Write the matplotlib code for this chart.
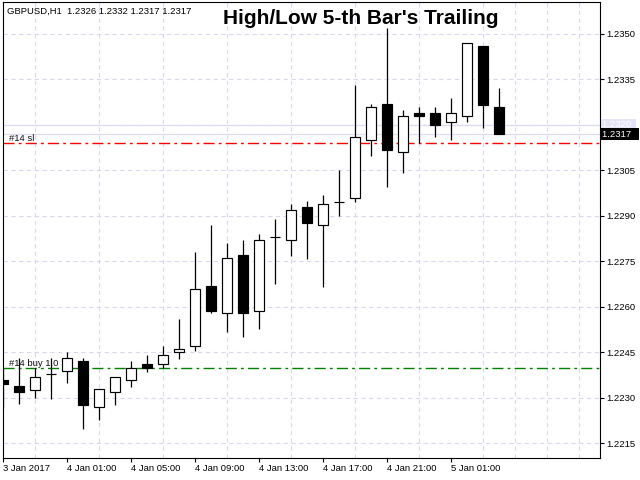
import matplotlib
matplotlib.use('Agg')
import matplotlib.pyplot as plt
import matplotlib.transforms as mtransforms
from matplotlib.ticker import MultipleLocator

# ---------------- data ----------------
bar_index = list(range(32))
opens = [1.22359, 1.22339, 1.22327, 1.22379, 1.22388, 1.22422, 1.22269, 1.22318,
         1.22358, 1.22412, 1.22411, 1.22450, 1.22471, 1.22669, 1.22579, 1.22770,
         1.22587, 1.22830, 1.22820, 1.22928, 1.22869, 1.22947, 1.22958, 1.23149,
         1.23268, 1.23110, 1.23238, 1.23238, 1.23209, 1.23229, 1.23459, 1.23260]
highs = [1.22400, 1.22430, 1.22398, 1.22431, 1.22450, 1.22431, 1.22330, 1.22370,
         1.22422, 1.22441, 1.22471, 1.22559, 1.22781, 1.22870, 1.22810, 1.22821,
         1.22840, 1.22889, 1.22939, 1.22949, 1.22969, 1.23051, 1.23332, 1.23269,
         1.23519, 1.23248, 1.23258, 1.23258, 1.23288, 1.23469, 1.23459, 1.23322]
lows = [1.22265, 1.22280, 1.22299, 1.22297, 1.22348, 1.22198, 1.22228, 1.22277,
        1.22337, 1.22386, 1.22398, 1.22429, 1.22455, 1.22579, 1.22518, 1.22500,
        1.22528, 1.22677, 1.22768, 1.22759, 1.22667, 1.22900, 1.22947, 1.23099,
        1.22996, 1.23041, 1.23140, 1.23159, 1.23149, 1.23209, 1.23189, 1.23170]
closes = [1.22347, 1.22318, 1.22368, 1.22379, 1.22430, 1.22277, 1.22328, 1.22368,
          1.22398, 1.22398, 1.22441, 1.22461, 1.22658, 1.22587, 1.22760, 1.22579,
          1.22820, 1.22830, 1.22919, 1.22878, 1.22938, 1.22947, 1.23159, 1.23258,
          1.23118, 1.23229, 1.23229, 1.23199, 1.23238, 1.23469, 1.23267, 1.23170]

x_tick_bars = [0, 4, 8, 12, 16, 20, 24, 28]
x_tick_labels = ['3 Jan 2017', '4 Jan 01:00', '4 Jan 05:00', '4 Jan 09:00',
                 '4 Jan 13:00', '4 Jan 17:00', '4 Jan 21:00', '5 Jan 01:00']
y_ticks = [1.2215, 1.2230, 1.2245, 1.2260, 1.2275, 1.2290, 1.2305, 1.2320, 1.2335, 1.2350]

sl_level = 1.2314
buy_level = 1.2240
ask_level = 1.2320
bid_level = 1.2317

title = "High/Low 5-th Bar's Trailing"
header = "GBPUSD,H1  1.2326 1.2332 1.2317 1.2317"

# ---------------- figure ----------------
FONT = 'Liberation Sans'
fig = plt.figure(figsize=(6.4, 4.8), dpi=100)
fig.patch.set_facecolor('white')
ax = fig.add_axes([2.5 / 640, 1 - 458 / 480, (600 - 2.5) / 640, (458 - 2) / 480])
ax.set_facecolor('white')

ax.set_xlim(-0.03, 37.31)
ax.set_ylim(1.221016, 1.236055)

grid_col = '#D8D8F0'
ax.xaxis.set_minor_locator(MultipleLocator(2))
ax.grid(True, which='minor', axis='x', color=grid_col, linestyle=(0, (4, 3)), linewidth=0.8, zorder=0)
ax.grid(True, which='major', axis='y', color=grid_col, linestyle=(0, (4, 3)), linewidth=0.8, zorder=0)
ax.set_axisbelow(True)

# level lines
ax.axhline(ask_level, color='#DCDCF0', linewidth=0.9, zorder=1)
ax.axhline(bid_level, color='#DCDCF0', linewidth=0.9, zorder=1)
ax.axhline(sl_level, color='#FF0000', linewidth=1.0, linestyle=(0, (8, 3, 2, 3)), zorder=1)
ax.axhline(buy_level, color='#008000', linewidth=1.0, linestyle=(0, (8, 3, 2, 3)), zorder=1)

# candles
ax.vlines(bar_index, lows, highs, color='black', linewidth=0.9, zorder=2)
bottoms = [min(o, c) for o, c in zip(opens, closes)]
heights = [abs(c - o) for o, c in zip(opens, closes)]
faces = ['black' if c < o else 'white' for o, c in zip(opens, closes)]
ax.bar(bar_index, heights, bottom=bottoms, width=0.62, color=faces,
       edgecolor='black', linewidth=0.85, zorder=3)

# axes styling
for s in ax.spines.values():
    s.set_color('black')
    s.set_linewidth(0.8)

ax.set_xticks(x_tick_bars)
ax.set_xticklabels(x_tick_labels, fontfamily=FONT, fontsize=6.8, ha='left')
ax.tick_params(axis='x', which='major', direction='out', length=3, width=0.8, pad=1.5, colors='black')
ax.tick_params(axis='x', which='minor', length=0)

ax.yaxis.tick_right()
ax.set_yticks(y_ticks)
ylabels = ['' if abs(v - ask_level) < 1e-9 else f'{v:.4f}' for v in y_ticks]
ax.set_yticklabels(ylabels, fontfamily=FONT, fontsize=6.8)
ax.tick_params(axis='y', direction='out', length=3, width=0.8, pad=1.5, colors='black')

# price boxes on the right axis
trans = mtransforms.blended_transform_factory(ax.transAxes, ax.transData)
ax.text(1.004, ask_level, f'{ask_level:.4f} ', transform=trans, ha='left', va='center',
        color='white', fontsize=6.8, fontfamily=FONT, clip_on=False, zorder=5,
        bbox=dict(boxstyle='square,pad=0.2', fc='#E4E4F6', ec='none'))
ax.text(1.004, bid_level, f'{bid_level:.4f}  ', transform=trans, ha='left', va='center',
        color='white', fontsize=6.8, fontfamily=FONT, clip_on=False, zorder=6,
        bbox=dict(boxstyle='square,pad=0.2', fc='black', ec='none'))

# line labels
ax.text(0.4, sl_level, '#14 sl', ha='left', va='bottom', fontsize=6.8,
        fontfamily=FONT, color='#111111', zorder=4)
ax.text(0.4, buy_level, '#14 buy 1.0', ha='left', va='bottom', fontsize=6.8,
        fontfamily=FONT, color='#111111', zorder=4)

# texts
fig.text(7 / 640, 1 - 11 / 480, header, ha='left', va='center', fontsize=6.8,
         fontfamily=FONT, color='black')
fig.text(361 / 640, 1 - 18.5 / 480, title, ha='center', va='center', fontsize=15,
         fontweight='bold', fontfamily=FONT, color='black')

fig.savefig('out.png', dpi=100)
